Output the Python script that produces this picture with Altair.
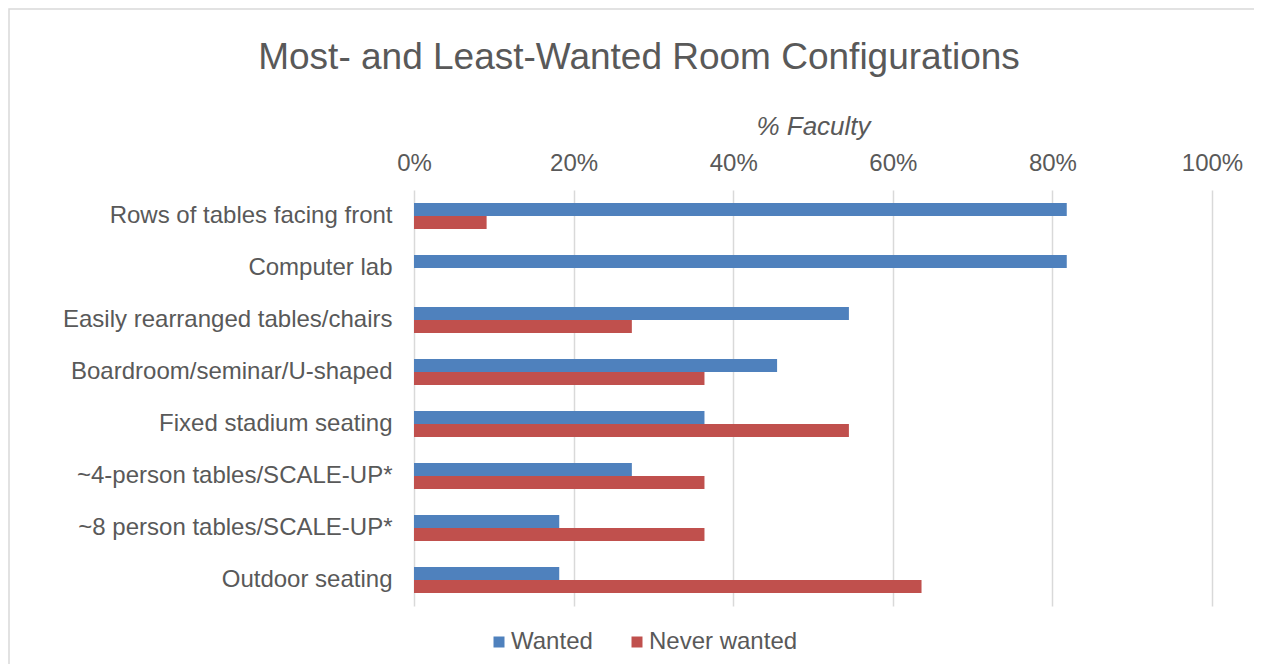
import altair as alt
import pandas as pd

categories = [
    "Rows of tables facing front",
    "Computer lab",
    "Easily rearranged tables/chairs",
    "Boardroom/seminar/U-shaped",
    "Fixed stadium seating",
    "~4-person tables/SCALE-UP*",
    "~8 person tables/SCALE-UP*",
    "Outdoor seating",
]
wanted = [0.818, 0.818, 0.545, 0.455, 0.364, 0.273, 0.182, 0.182]
never_wanted = [0.091, 0.0, 0.273, 0.364, 0.545, 0.364, 0.364, 0.636]
series = ["Wanted", "Never wanted"]
colors = ["#4f81bd", "#c0504d"]

rows = []
for c, w, n in zip(categories, wanted, never_wanted):
    rows.append({"cat": c, "series": "Wanted", "value": w})
    rows.append({"cat": c, "series": "Never wanted", "value": n})
df = pd.DataFrame(rows)

FONT = "Liberation Sans"
GREY = "#595959"

bars = alt.Chart(df).mark_bar().encode(
    y=alt.Y("cat:N", sort=categories, scale=alt.Scale(paddingInner=0.5, paddingOuter=0.25),
            axis=alt.Axis(title=None, labelFontSize=24, labelColor=GREY, labelFont=FONT,
                          labelPadding=22, ticks=False, domain=False, grid=False, labelLimit=400)),
    yOffset=alt.YOffset("series:N", sort=series),
    x=alt.X("value:Q", scale=alt.Scale(domain=[0, 1]),
            axis=alt.Axis(orient="top", format=".0%", values=[0, 0.2, 0.4, 0.6, 0.8, 1.0],
                          title="% Faculty", titleFontStyle="italic", titleFontWeight="normal",
                          titleFontSize=26, titleColor=GREY, titleFont=FONT, titlePadding=12,
                          labelFontSize=24, labelColor=GREY, labelFont=FONT, labelPadding=15,
                          labelFlush=False,
                          ticks=False, domain=False, grid=True, gridColor="#d9d9d9", gridWidth=1.5)),
    color=alt.Color("series:N", sort=series,
                    scale=alt.Scale(domain=series, range=colors),
                    legend=alt.Legend(title=None, orient="none", direction="horizontal",
                                      legendX=73, legendY=440, labelFontSize=24, labelColor=GREY,
                                      labelFont=FONT, symbolType="square", symbolSize=121,
                                      symbolStrokeWidth=0, columnPadding=32, labelOffset=0)),
)

border = alt.Chart(alt.Data(values=[{}])).mark_rect(
    fill=None, stroke="#d9d9d9", strokeWidth=1.5
).encode(
    x=alt.value(-405), x2=alt.value(850), y=alt.value(-181), y2=alt.value(485)
)

chart = alt.layer(border, bars).properties(
    width=798,
    height=416,
    autosize=alt.AutoSizeParams(type="none"),
    padding={"left": 406, "top": 182, "right": 42, "bottom": 58},
    title=alt.Title("Most- and Least-Wanted Room Configurations", fontSize=37,
                    font=FONT, color=GREY, fontWeight="normal", anchor="middle",
                    dx=-174, dy=69, offset=0),
).configure_view(stroke=None)

chart.save("out.html", embed_options={"renderer": "svg", "actions": False})
